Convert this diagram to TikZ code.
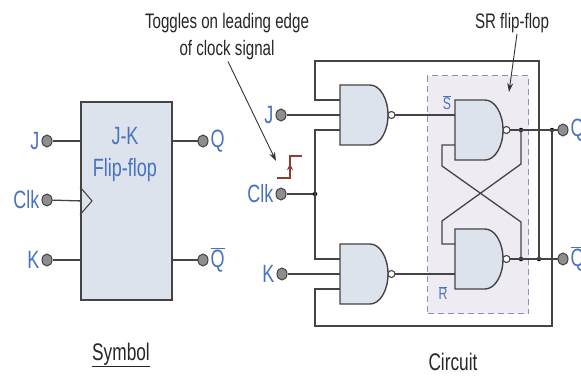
\documentclass[tikz,border=0pt]{standalone}
\usepackage{fontspec}
\setmainfont{Liberation Sans}[FakeStretch=0.72]
\usepackage{xcolor}
\definecolor{xblue}{HTML}{4A72C2}
\definecolor{xwire}{HTML}{444444}
\definecolor{xgate}{HTML}{DCE3EC}
\definecolor{xsr}{HTML}{EFEBF3}
\definecolor{xdash}{HTML}{9A88B8}
\definecolor{xpin}{HTML}{8E8E8E}
\definecolor{xedge}{HTML}{8E3B30}
\newcommand{\ovl}[1]{$\overline{\mbox{#1}}$}
\usetikzlibrary{arrows.meta, shapes.geometric, positioning}
\tikzset{
  %% Styles %%
  wire/.style = {xwire, line width=1.3pt},
  terminal/.style = {ellipse, draw=xwire, line width=1pt, fill=xpin,
    minimum width=10pt, minimum height=12pt, inner sep=0pt},
  junction/.style = {circle, fill=black, minimum size=4.5pt, inner sep=0pt},
  pinlabel/.style = {text=xblue, inner sep=2pt, font=\fontsize{25}{28}\selectfont},
  srlabel/.style = {text=xblue, inner sep=0pt, font=\fontsize{17}{20}\selectfont},
  note/.style = {align=center, text=black!85, inner sep=1pt, font=\fontsize{21}{27}\selectfont},
  caption/.style = {text=black!85, font=\fontsize{24}{28}\selectfont},
  pointer/.style = {black!80, line width=0.9pt, -{Stealth[length=9pt, width=6pt]}},
  symbox/.style = {draw=xwire, line width=1.8pt, fill=xgate, inner sep=0pt},
  srframe/.style = {draw=xdash, dashed, dash pattern=on 6pt off 4pt, line width=1pt,
    fill=xsr, inner sep=0pt},
  edgemark/.style = {xedge, line width=1.4pt},
  %% NAND gate %%
  pics/nand/.style = {
    code = {
      \draw[xwire, line width=1.4pt, fill=xgate] (0,-30) -- (30,-30)
        arc[start angle=-90, end angle=90, x radius=18, y radius=30] -- (0,30) -- cycle;
      \draw[xwire, line width=1.1pt, fill=white] (51.5,0) circle[radius=3.5];
      \coordinate (-in1) at (0,-15);
      \coordinate (-in2) at (0,0);
      \coordinate (-in3) at (0,15);
      \coordinate (-out) at (55,0);
    }
  },
}

\begin{document}
\begin{tikzpicture}[x=1pt, y=-1pt]
  \useasboundingbox (0,0) rectangle (581,375);

  % Symbol
  \node[symbox, anchor=north west, minimum width=91pt, minimum height=198pt] (ffbox) at (80,101) {};
  \node[align=center, text=xblue, font=\fontsize{25}{32}\selectfont] (fftext) at (125,154) {J-K\\Flip-flop};
  \draw[xwire, line width=1.1pt] ([yshift=14pt]ffbox.west) -- ([xshift=12pt]ffbox.west) -- ([yshift=-14pt]ffbox.west);

  \node[terminal] (sJ) at (47,141) {};
  \node[terminal] (sClk) at (47,200) {};
  \node[terminal] (sK) at (47,260) {};
  \node[terminal] (sQ) at (203,141) {};
  \node[terminal] (sQb) at (203,260) {};
  \draw[wire] (sJ) -- (sJ -| ffbox.west);
  \draw[wire] (sClk) -- (ffbox.west);
  \draw[wire] (sK) -- (sK -| ffbox.west);
  \draw[wire] (sQ -| ffbox.east) -- (sQ);
  \draw[wire] (sQb -| ffbox.east) -- (sQb);

  \node[pinlabel, anchor=east] (lsJ) at (sJ.west) {J};
  \node[pinlabel, anchor=east] (lsClk) at (sClk.west) {Clk};
  \node[pinlabel, anchor=east] (lsK) at (sK.west) {K};
  \node[pinlabel, anchor=west] (lsQ) at (sQ.east) {Q};
  \node[pinlabel, anchor=west] (lsQb) at (sQb.east) {\ovl{Q}};

  \node[caption] (symcap) at (121,355) {\underline{Symbol}};

  % Circuit
  \node[srframe, anchor=north west, minimum width=101pt, minimum height=238pt] (srbox) at (427,75) {};

  \pic (nJ) at (340,115) {nand};
  \pic (nK) at (340,274) {nand};
  \pic (nS) at (455,130) {nand};
  \pic (nR) at (455,259) {nand};

  \node[terminal] (cJ) at (281,115) {};
  \node[terminal] (cClk) at (281,194) {};
  \node[terminal] (cK) at (282,274) {};
  \node[terminal] (cQ) at (563,130) {};
  \node[terminal] (cQb) at (563,259) {};

  \node[junction] (dClk) at (315,194) {};
  \node[junction] (dQa) at (521,130) {};
  \node[junction] (dQb) at (552,130) {};
  \node[junction] (dQba) at (521,259) {};
  \node[junction] (dQbb) at (539,259) {};

  \coordinate (loopT) at (315,61);
  \coordinate (loopB) at (315,326);
  \coordinate (xa) at (521,164);
  \coordinate (xb) at (442,221);
  \coordinate (xc) at (521,222);
  \coordinate (xd) at (442,166);

  \draw[wire] (cJ) -- (nJ-in2);
  \draw[wire] (cK) -- (nK-in2);
  \draw[wire] (cClk) -- (dClk);
  \draw[wire] (nJ-in3) -| (dClk.center) |- (nK-in1);
  \draw[wire] (nJ-out) -- (nS-in1);
  \draw[wire] (nK-out) -- (nR-in3);
  \draw[wire] (nS-out) -- (cQ);
  \draw[wire] (nR-out) -- (cQb);
  % cross coupling
  \draw[wire] (dQa.center) -- (xa) -- (xb) |- (nR-in1);
  \draw[wire] (dQba.center) -- (xc) -- (xd) |- (nS-in3);
  % feedback
  \draw[wire] (dQbb.center) |- (loopT) |- (nJ-in1);
  \draw[wire] (dQb.center) |- (loopB) |- (nK-in3);

  \node[pinlabel, anchor=east] (lcJ) at (cJ.west) {J};
  \node[pinlabel, anchor=east] (lcClk) at (cClk.west) {Clk};
  \node[pinlabel, anchor=east] (lcK) at (cK.west) {K};
  \node[pinlabel, anchor=west] (lcQ) at (cQ.east) {Q};
  \node[pinlabel, anchor=west] (lcQb) at (cQb.east) {\ovl{Q}};
  \node[srlabel] (lS) at (447,103) {\ovl{S}};
  \node[srlabel] (lR) at (443,293) {\ovl{R}};

  % clock edge
  \draw[edgemark] (277,178) -- (290,178) -- (290,156) -- (302,156);
  \draw[edgemark, -{Stealth[length=6pt, width=6pt]}] (290,178) -- (290,164);

  % notes
  \node[note] (toggle) at (227,37) {Toggles on leading edge\\of clock signal};
  \coordinate (edgetip) at (276,161);
  \draw[pointer] ([xshift=1pt]toggle.south) -- (edgetip);
  \node[note] (srnote) at (512,23) {SR flip-flop};
  \coordinate (srtip) at (509,92);
  \draw[pointer] ([xshift=5pt]srnote.south) -- (srtip);

  \node[caption] (circap) at (453,362) {Circuit};
\end{tikzpicture}
\end{document}
